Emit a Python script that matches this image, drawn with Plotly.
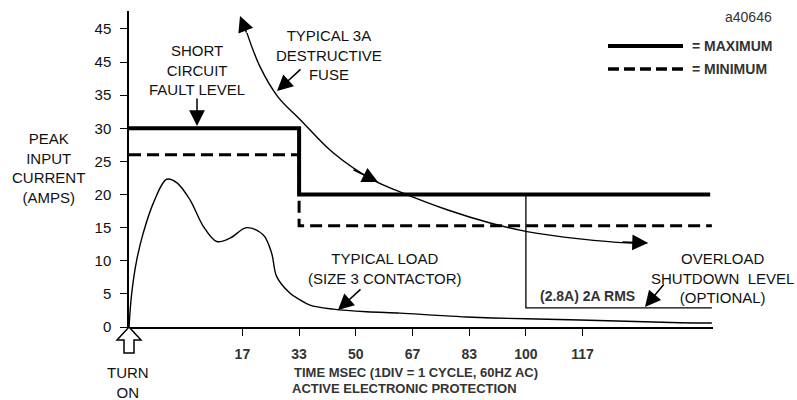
import plotly.graph_objects as go

# ---------------- data ----------------
# x in divisions (1 div = 1 cycle of 60 Hz), y in amps
load_x = [0, 0.048, 0.136, 0.252, 0.429, 0.665, 0.841, 1.076, 1.31, 1.547, 1.781, 2.076,
          2.369, 2.517, 2.605, 2.84, 3.016, 3.192, 3.603, 4.192, 4.78, 5.36, 5.956, 6.42,
          7.01, 7.95, 9.72, 10.28]
load_y = [0, 5.1, 10.1, 14.2, 18.7, 22.3, 21.8, 19.2, 15.2, 12.9, 13.4, 15.0,
          13.9, 11.1, 7.6, 5.1, 4.1, 3.3, 2.7, 2.3, 2.1, 1.8, 1.5, 1.35,
          1.25, 1.05, 0.65, 0.6]

fuse_x = [2.08, 2.31, 2.63, 3.02, 3.60, 4.30, 4.78, 5.61, 6.37, 7.02, 7.95, 8.78, 9.14]
fuse_y = [44.4, 39.3, 34.7, 31.3, 26.3, 22.2, 20.4, 17.7, 15.7, 14.4, 13.3, 12.7, 12.7]

max_x = [0, 3, 3, 10.25]
max_y = [30, 30, 20, 20]

min_x = [0, 3, 3, 10.28]
min_y = [26, 26, 15.3, 15.3]

overload_x = [7, 7, 10.28]
overload_y = [20, 2.9, 2.9]

x_tickvals = [2, 3, 4, 5, 6, 7, 8]
x_ticktext = ["17", "33", "50", "67", "83", "100", "117"]
y_tickvals = [0, 5, 10, 15, 20, 25, 30, 35, 40, 45]
y_ticktext = ["0", "5", "10", "15", "20", "25", "30", "35", "45", "45"]

# ---------------- layout helpers ----------------
W, H = 797, 400
L, R, T, B = 129, 84, 11, 73
PW, PH = W - L - R, H - T - B
FONT = "Liberation Sans, Arial, Helvetica, sans-serif"


def P(xp, yp):
    return (xp - L) / PW, (H - B - yp) / PH


fig = go.Figure()
fig.add_trace(go.Scatter(x=load_x, y=load_y, mode="lines",
                         line=dict(color="black", width=1.4, shape="spline"), hoverinfo="skip"))
fig.add_trace(go.Scatter(x=fuse_x, y=fuse_y, mode="lines",
                         line=dict(color="black", width=1.4, shape="spline"), hoverinfo="skip"))
fig.add_trace(go.Scatter(x=max_x, y=max_y, mode="lines",
                         line=dict(color="black", width=4), hoverinfo="skip"))
fig.add_trace(go.Scatter(x=min_x, y=min_y, mode="lines",
                         line=dict(color="black", width=3, dash="12px,6px"), hoverinfo="skip"))
fig.add_trace(go.Scatter(x=overload_x, y=overload_y, mode="lines",
                         line=dict(color="black", width=1.3), hoverinfo="skip"))

annotations = []


def text(t, xp, yp, size=15, bold=False, xanchor="center", color="#111", align="center"):
    x, y = P(xp, yp)
    if bold:
        t = "<b>" + t + "</b>"
    annotations.append(dict(text=t, x=x, y=y, xref="paper", yref="paper", showarrow=False,
                            xanchor=xanchor, yanchor="middle", align=align,
                            font=dict(family=FONT, size=size, color=color)))


def arrow(tip, tail, head=2, size=2.1, width=1.5):
    x, y = P(*tip)
    annotations.append(dict(text="", x=x, y=y, xref="paper", yref="paper", showarrow=True,
                            ax=tail[0] - tip[0], ay=tail[1] - tip[1],
                            arrowhead=head, arrowsize=size, arrowwidth=width,
                            arrowcolor="black"))


text("PEAK<br>INPUT<br>CURRENT<br>(AMPS)", 48, 168)
text("SHORT<br>CIRCUIT<br>FAULT LEVEL", 197, 70)
text("TYPICAL 3A<br>DESTRUCTIVE<br>FUSE", 329, 55)
text("TYPICAL LOAD<br>(SIZE 3 CONTACTOR)", 385, 268)
text("OVERLOAD<br>SHUTDOWN\u00a0 LEVEL<br>(OPTIONAL)", 722, 278)
text("(2.8A) 2A RMS", 587, 296, size=14, bold=True, color="#333")
text("= MAXIMUM", 690, 46, size=14, bold=True, xanchor="left", color="#333")
text("= MINIMUM", 690, 69, size=14, bold=True, xanchor="left", color="#333")
text("a40646", 748, 17, size=14, color="#333")
text("TURN<br>ON", 128, 382)
text("TIME MSEC (1DIV = 1 CYCLE, 60HZ AC)", 292, 372, size=13, bold=True, xanchor="left", color="#333")
text("ACTIVE ELECTRONIC PROTECTION", 290, 388, size=13, bold=True, xanchor="left", color="#333")

arrow((197, 126), (197, 97))
arrow((277, 91), (302, 68))
arrow((240, 16), (247, 34))
arrow((378, 182), (352, 169))
arrow((648, 243), (621, 242))
arrow((338, 310), (362, 288))
arrow((645, 307), (665, 283))

x0p, _ = P(608, 0)
x1p, _ = P(683, 0)
_, y_max_leg = P(0, 46)
_, y_min_leg = P(0, 69)
shapes = [
    dict(type="line", xref="paper", yref="paper", x0=x0p, x1=x1p, y0=y_max_leg, y1=y_max_leg,
         line=dict(color="black", width=4)),
    dict(type="line", xref="paper", yref="paper", x0=x0p, x1=x1p, y0=y_min_leg, y1=y_min_leg,
         line=dict(color="black", width=3.5, dash="11px,5px")),
    # hollow "turn on" arrow below the origin
    dict(type="path", xref="paper", yref="paper", xsizemode="pixel", ysizemode="pixel",
         xanchor=0, yanchor=0,
         path="M0,0 L12,-13 L5,-13 L5,-26 L-5,-26 L-5,-13 L-12,-13 Z",
         line=dict(color="black", width=1.5), fillcolor="white"),
]

fig.update_layout(
    width=W, height=H,
    margin=dict(l=L, r=R, t=T, b=B, pad=0),
    paper_bgcolor="white", plot_bgcolor="white",
    showlegend=False,
    font=dict(family=FONT, size=15, color="#111"),
    annotations=annotations,
    shapes=shapes,
    xaxis=dict(range=[0, 10.3], tickvals=x_tickvals, ticktext=x_ticktext,
               ticks="outside", ticklen=7, tickwidth=1.3, tickcolor="black",
               showline=True, linecolor="black", linewidth=1.5, showgrid=False, zeroline=False,
               tickfont=dict(family=FONT, size=14, color="#333", weight="bold"),
               ticklabelstandoff=6),
    yaxis=dict(range=[0, 47.7], tickvals=y_tickvals, ticktext=y_ticktext,
               ticks="outside", ticklen=7, tickwidth=1.3, tickcolor="black",
               showline=True, linecolor="black", linewidth=1.5, showgrid=False, zeroline=False,
               tickfont=dict(family=FONT, size=15, color="#111"),
               ticklabelstandoff=6),
)

fig.write_html("out.html", config={"displayModeBar": False},
               post_script="document.body.style.margin='0';document.body.style.overflow='hidden';")
